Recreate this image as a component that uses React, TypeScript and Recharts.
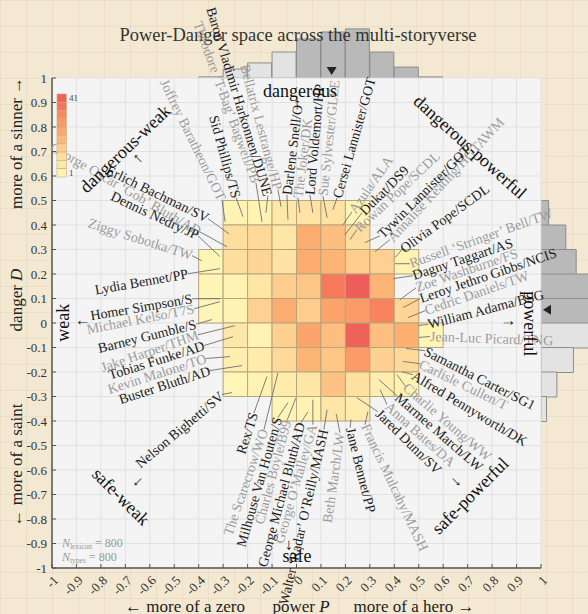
import React from "react";
import {
  ScatterChart,
  Scatter,
  XAxis,
  YAxis,
  CartesianGrid,
  ReferenceArea,
  ReferenceLine,
  ReferenceDot,
  BarChart,
  Bar,
  Cell,
} from "recharts";

const W = 588;
const H = 614;
const PL = 52;
const PT = 78;
const PR = 541;
const PB = 568;
const FONT = '"Liberation Serif", "Times New Roman", serif';

const axisTicks = [
  -1, -0.9, -0.8, -0.7, -0.6, -0.5, -0.4, -0.3, -0.2, -0.1, 0, 0.1, 0.2, 0.3,
  0.4, 0.5, 0.6, 0.7, 0.8, 0.9, 1,
];

// heatmap bins: lower edges (width 0.1)
const binPower = [-0.4, -0.3, -0.2, -0.1, 0, 0.1, 0.2, 0.3, 0.4, 0.5];
const binDanger = [0.4, 0.3, 0.2, 0.1, 0, -0.1, -0.2, -0.3, -0.4];
const binCounts: (number | null)[][] = [
  [null, 3, 3, 7, 9, 9, 2, null, null, null],
  [null, 11, 12, 8, 22, 18, 11, null, null, null],
  [2, 11, 13, 9, 22, 20, 15, 14, 3, null],
  [2, 3, 8, 15, 16, 34, 40, 20, null, null],
  [2, 3, 14, 22, 15, 24, 26, 32, 13, null],
  [null, 7, 3, 14, 24, 18, 39, 18, 21, 2],
  [null, 5, 6, 12, 20, 16, 26, 14, 12, null],
  [null, 2, 3, 6, 8, 17, 10, 5, 3, null],
  [null, null, null, 2, 3, 8, 6, null, null, null],
];

// marginal histograms (same bins as above)
const histPower = [4, 32, 54, 93, 140, 165, 176, 93, 39, 4];
const histDanger = [22, 72, 102, 149, 156, 143, 94, 46, 16];
const meanPower = 0.144;
const meanDanger = 0.054;

const colorbarTicks = [1, 41];

const characters = [
  { name: "George Oscar ‘Gob’ Bluth/AD", p: -0.284, d: 0.311 },
  { name: "Erlich Bachman/SV", p: -0.276, d: 0.364 },
  { name: "Dennis Nedry/JP", p: -0.313, d: 0.271 },
  { name: "Ziggy Sobotka/TW", p: -0.387, d: 0.254 },
  { name: "Lydia Bennet/PP", p: -0.313, d: 0.222 },
  { name: "Homer Simpson/S", p: -0.313, d: 0.099 },
  { name: "Michael Kelso/T7S", p: -0.313, d: 0.087 },
  { name: "Barney Gumble/S", p: -0.346, d: 0.014 },
  { name: "Jake Harper/THM", p: -0.252, d: -0.011 },
  { name: "Tobias Funke/AD", p: -0.26, d: -0.056 },
  { name: "Kevin Malone/TO", p: -0.272, d: -0.137 },
  { name: "Buster Bluth/AD", p: -0.223, d: -0.174 },
  { name: "Nelson Bighetti/SV", p: -0.264, d: -0.284 },
  { name: "Rex/TS", p: -0.121, d: -0.219 },
  { name: "The Scarecrow/WO", p: -0.076, d: -0.203 },
  { name: "Milhouse Van Houten/S", p: -0.035, d: -0.325 },
  { name: "Charles Boyle/B99", p: -0.002, d: -0.305 },
  { name: "George Michael Bluth/AD", p: 0.047, d: -0.362 },
  { name: "George O’Malley/GA", p: 0.067, d: -0.313 },
  { name: "Walter ‘Radar’ O’Reilly/MASH", p: 0.125, d: -0.354 },
  { name: "Beth March/LW", p: 0.162, d: -0.37 },
  { name: "Jane Bennet/PP", p: 0.223, d: -0.394 },
  { name: "Francis Mulcahy/MASH", p: 0.292, d: -0.362 },
  { name: "Jared Dunn/SV", p: 0.247, d: -0.305 },
  { name: "Anna Bates/DA", p: 0.342, d: -0.272 },
  { name: "Marmee March/LW", p: 0.337, d: -0.231 },
  { name: "Charlie Young/WW", p: 0.411, d: -0.211 },
  { name: "Alfred Pennyworth/DK", p: 0.431, d: -0.199 },
  { name: "Carlisle Cullen/T", p: 0.436, d: -0.157 },
  { name: "Samantha Carter/SG1", p: 0.448, d: -0.104 },
  { name: "Jean-Luc Picard/TNG", p: 0.501, d: -0.059 },
  { name: "William Adama/BSG", p: 0.497, d: -0.01 },
  { name: "Cedric Daniels/TW", p: 0.456, d: 0.022 },
  { name: "Leroy Jethro Gibbs/NCIS", p: 0.436, d: 0.063 },
  { name: "Zoe Washburne/FS", p: 0.423, d: 0.095 },
  { name: "Dagny Taggart/AS", p: 0.395, d: 0.181 },
  { name: "Russell ‘Stringer’ Bell/TW", p: 0.403, d: 0.242 },
  { name: "Olivia Pope/SCDL", p: 0.403, d: 0.267 },
  { name: "Annalise Keating/HGTAWM", p: 0.321, d: 0.291 },
  { name: "Tywin Lannister/GOT", p: 0.28, d: 0.328 },
  { name: "Rowan Pope/SCDL", p: 0.219, d: 0.34 },
  { name: "Dukat/DS9", p: 0.198, d: 0.36 },
  { name: "Azula/ALA", p: 0.19, d: 0.401 },
  { name: "Cersei Lannister/GOT", p: 0.149, d: 0.462 },
  { name: "Sue Sylvester/GLEE", p: 0.125, d: 0.43 },
  { name: "Lord Voldemort/HP", p: 0.067, d: 0.45 },
  { name: "The Joker/DK", p: 0.014, d: 0.45 },
  { name: "Darlene Snell/O", p: -0.035, d: 0.422 },
  { name: "Bellatrix Lestrange/HP", p: -0.063, d: 0.475 },
  { name: "Baron Vladimir Harkonnen/DUNE", p: -0.125, d: 0.45 },
  { name: "Theodore ‘T-Bag’ Bagwell/PB", p: -0.141, d: 0.413 },
  { name: "Sid Phillips/TS", p: -0.219, d: 0.434 },
  { name: "Joffrey Baratheon/GOT", p: -0.292, d: 0.413 },
];

// label anchor (data units), rotation, grey tone — same order as characters
const labelLayout = [
  [-0.395, 0.372, 30, 1], [-0.362, 0.426, 26, 0], [-0.403, 0.356, 25, 0],
  [-0.427, 0.275, 17.6, 1], [-0.444, 0.201, -10, 0], [-0.427, 0.099, -9.6, 0],
  [-0.419, 0.058, -11, 1], [-0.411, -0.005, -14, 0], [-0.403, -0.048, -19, 1],
  [-0.378, -0.092, -17.5, 0], [-0.37, -0.145, -17.6, 1], [-0.354, -0.194, -18, 0],
  [-0.305, -0.292, -40, 0], [-0.174, -0.367, -72, 0], [-0.133, -0.435, -71, 1],
  [-0.076, -0.386, -74, 0], [-0.039, -0.398, -75, 1], [0.018, -0.407, -75, 0],
  [0.067, -0.415, -74, 1], [0.112, -0.435, -77, 0], [0.178, -0.448, -82, 1],
  [0.219, -0.427, 76, 0], [0.28, -0.415, 64.7, 1], [0.333, -0.362, 44.6, 0],
  [0.37, -0.333, 42, 1], [0.411, -0.297, 41, 0], [0.444, -0.256, 40.6, 1],
  [0.476, -0.211, 31, 0], [0.505, -0.166, 26, 1], [0.526, -0.113, 27, 0],
  [0.546, -0.055, 2, 1], [0.538, -0.006, -14.6, 0], [0.526, 0.05, -19, 1],
  [0.505, 0.099, -18.8, 0], [0.489, 0.144, -19, 1], [0.476, 0.193, -18.4, 0],
  [0.464, 0.242, -19.7, 1], [0.431, 0.299, -36, 0], [0.382, 0.34, -47, 1],
  [0.342, 0.356, -45, 0], [0.247, 0.381, -43, 1], [0.268, 0.45, -45, 0],
  [0.227, 0.454, -55, 1], [0.166, 0.511, -74, 0], [0.108, 0.519, -84, 1],
  [0.055, 0.523, -85, 0], [0.006, 0.511, -83, 1], [-0.039, 0.523, -83, 0],
  [-0.076, 0.544, 75, 1], [-0.117, 0.52, 73, 0], [-0.166, 0.573, 70, 1],
  [-0.247, 0.511, 74.5, 0], [-0.305, 0.503, 64, 1],
];

const regions = [
  { text: "dangerous-weak", p: -0.701, d: 0.711, angle: -44 },
  { text: "dangerous", p: 0.014, d: 0.948, angle: 0 },
  { text: "dangerous-powerful", p: 0.71, d: 0.719, angle: 42 },
  { text: "powerful", p: 0.955, d: -0.003, angle: 90 },
  { text: "safe-powerful", p: 0.71, d: -0.705, angle: -45 },
  { text: "safe", p: 0.002, d: -0.95, angle: 0 },
  { text: "safe-weak", p: -0.718, d: -0.709, angle: 45 },
  { text: "weak", p: -0.955, d: 0.001, angle: -90 },
];
const regionArrows = [
  { p: -0.652, d: 0.674, angle: -45 },
  { p: 0.002, d: 0.895, angle: 0 },
  { p: 0.669, d: 0.674, angle: 45 },
  { p: 0.873, d: 0.001, angle: 90 },
  { p: 0.656, d: -0.652, angle: 135 },
  { p: -0.031, d: -0.913, angle: 180 },
  { p: -0.652, d: -0.652, angle: -135 },
  { p: -0.881, d: 0.001, angle: -90 },
];

const cmapStops: [number, number[]][] = [
  [0, [255, 248, 186]],
  [0.25, [254, 222, 158]],
  [0.5, [253, 176, 114]],
  [0.75, [249, 136, 94]],
  [1, [236, 88, 88]],
];
function countColor(n: number) {
  const t = Math.max(0, Math.min(1, (n - 1) / 40));
  for (let i = 1; i < cmapStops.length; i++) {
    const [t1, c1] = cmapStops[i];
    const [t0, c0] = cmapStops[i - 1];
    if (t <= t1) {
      const f = (t - t0) / (t1 - t0);
      const c = c0.map((v, k) => Math.round(v + (c1[k] - v) * f));
      return `rgb(${c[0]},${c[1]},${c[2]})`;
    }
  }
  return "rgb(236,88,88)";
}

const fmt = (v: number) => (v === 0 ? "0" : String(v));
const r1 = (v: number) => Math.round(v * 10) / 10;

const cells = binCounts.flatMap((row, i) =>
  row.map((n, j) => ({ n, p: binPower[j], d: binDanger[i] })).filter((c) => c.n !== null)
) as { n: number; p: number; d: number }[];

const labelData = characters.map((c, i) => {
  const [lp, ld, angle, gray] = labelLayout[i];
  const a = (angle * Math.PI) / 180;
  const ox = lp - c.p;
  const oy = -(ld - c.d);
  const anchor = Math.cos(a) * ox + Math.sin(a) * oy >= 0 ? "start" : "end";
  return { x: lp, y: ld, angle, gray, anchor, name: c.name, p: c.p, d: c.d };
});

// full 20-bin histograms from -1 to 1 (bins without characters are 0)
const allBins = axisTicks.slice(0, 20);
const topHistData = allBins.map((b) => {
  const k = binPower.findIndex((v) => r1(v) === r1(b));
  return { bin: r1(b), n: k >= 0 ? histPower[k] : 0 };
});
const rightHistData = allBins
  .slice()
  .reverse()
  .map((b) => {
    const k = binDanger.findIndex((v) => r1(v) === r1(b));
    return { bin: r1(b), n: k >= 0 ? histDanger[k] : 0 };
  });

const XTick = (props: any) => {
  const { x, payload } = props;
  const ty = PB + 10;
  return (
    <g>
      <line x1={x} x2={x} y1={PB} y2={PB - 4} stroke="#555" strokeWidth={1} />
      <text
        x={x + 4}
        y={ty}
        textAnchor="end"
        dominantBaseline="central"
        transform={`rotate(-45 ${x + 4} ${ty})`}
        fontFamily={FONT}
        fontSize={13}
        fill="#333"
      >
        {fmt(payload.value)}
      </text>
    </g>
  );
};

const YTick = (props: any) => {
  const { y, payload } = props;
  return (
    <g>
      <line x1={PL} x2={PL + 4} y1={y} y2={y} stroke="#555" strokeWidth={1} />
      <text x={PL - 5} y={y} textAnchor="end" dominantBaseline="central" fontFamily={FONT} fontSize={13} fill="#333">
        {fmt(payload.value)}
      </text>
    </g>
  );
};

const NameShape = (props: any) => {
  const { cx, cy, payload } = props;
  return (
    <text
      x={cx}
      y={cy}
      textAnchor={payload.anchor}
      dominantBaseline="central"
      transform={`rotate(${payload.angle} ${cx} ${cy})`}
      fontFamily={FONT}
      fontSize={14}
      fill={payload.gray ? "#9c9c9c" : "#1c1c1c"}
    >
      {payload.name}
    </text>
  );
};

const RegionShape = (props: any) => {
  const { cx, cy, payload } = props;
  return (
    <text
      x={cx}
      y={cy}
      textAnchor="middle"
      dominantBaseline="central"
      transform={`rotate(${payload.angle} ${cx} ${cy})`}
      fontFamily={FONT}
      fontSize={18}
      fill="#111"
    >
      {payload.text}
    </text>
  );
};

const ArrowShape = (props: any) => {
  const { cx, cy, payload } = props;
  return (
    <text
      x={cx}
      y={cy}
      textAnchor="middle"
      dominantBaseline="central"
      transform={`rotate(${payload.angle} ${cx} ${cy})`}
      fontFamily={FONT}
      fontSize={16}
      fill="#222"
    >
      ↑
    </text>
  );
};

export default function App() {
  const abs = { position: "absolute" as const, left: 0, top: 0 };
  return (
    <div
      style={{
        ...abs,
        width: W,
        height: H,
        overflow: "hidden",
        backgroundColor: "#f3e8d2",
        backgroundImage:
          "linear-gradient(rgba(170,140,100,0.10) 1px, transparent 1px), linear-gradient(90deg, rgba(170,140,100,0.10) 1px, transparent 1px)",
        backgroundSize: "26px 26px",
      }}
    >
      <div style={{ position: "absolute", left: PL, top: PT - 60 }}>
        <BarChart
          width={PR - PL}
          height={60}
          data={topHistData}
          margin={{ top: 0, right: 0, bottom: 0, left: 0 }}
          barCategoryGap={0}
          barGap={0}
        >
          <XAxis dataKey="bin" type="category" hide />
          <YAxis type="number" domain={[0, 215]} hide />
          <Bar dataKey="n" stroke="#8c8c8c" strokeWidth={1} isAnimationActive={false}>
            {topHistData.map((b, i) => (
              <Cell key={i} fill={b.bin >= 0 ? "#b9b9b9" : "#e3e3e3"} />
            ))}
          </Bar>
        </BarChart>
      </div>

      <div style={{ position: "absolute", left: PR, top: PT }}>
        <BarChart
          layout="vertical"
          width={60}
          height={PB - PT}
          data={rightHistData}
          margin={{ top: 0, right: 0, bottom: 0, left: 0 }}
          barCategoryGap={0}
          barGap={0}
        >
          <XAxis type="number" domain={[0, 174]} hide />
          <YAxis dataKey="bin" type="category" hide />
          <Bar dataKey="n" stroke="#8c8c8c" strokeWidth={1} isAnimationActive={false}>
            {rightHistData.map((b, i) => (
              <Cell key={i} fill={b.bin >= 0 ? "#b9b9b9" : "#e3e3e3"} />
            ))}
          </Bar>
        </BarChart>
      </div>

      <svg width={W} height={H} style={abs}>
        <text x={298} y={35} textAnchor="middle" dominantBaseline="central" fontFamily={FONT} fontSize={18.5} fill="#333">
          Power-Danger space across the multi-storyverse
        </text>
        <text x={185} y={606} textAnchor="middle" dominantBaseline="central" fontFamily={FONT} fontSize={17} fill="#222">
          ← more of a zero
        </text>
        <text x={301} y={606} textAnchor="middle" dominantBaseline="central" fontFamily={FONT} fontSize={17} fill="#222">
          power <tspan fontStyle="italic">P</tspan>
        </text>
        <text x={414} y={606} textAnchor="middle" dominantBaseline="central" fontFamily={FONT} fontSize={17} fill="#222">
          more of a hero →
        </text>
        {[
          { t: "← more of a saint", y: 465 },
          { t: "danger", y: 300, it: "D" },
          { t: "more of a sinner →", y: 143 },
        ].map((l) => (
          <text
            key={l.t}
            x={16}
            y={l.y}
            textAnchor="middle"
            dominantBaseline="central"
            transform={`rotate(-90 16 ${l.y})`}
            fontFamily={FONT}
            fontSize={17}
            fill="#222"
          >
            {l.t}
            {l.it ? <tspan fontStyle="italic"> {l.it}</tspan> : null}
          </text>
        ))}
      </svg>

      <div style={abs}>
        <ScatterChart width={W} height={H} margin={{ top: PT, right: W - PR, bottom: 16, left: 8 }}>
          <CartesianGrid fill="#f4f4f4" stroke="#e1e1e1" strokeWidth={1} />
          <XAxis
            type="number"
            dataKey="x"
            domain={[-1, 1]}
            ticks={axisTicks}
            interval={0}
            tick={<XTick />}
            tickLine={false}
            axisLine={{ stroke: "#555", strokeWidth: 1.5 }}
            height={30}
          />
          <YAxis
            type="number"
            dataKey="y"
            domain={[-1, 1]}
            ticks={axisTicks}
            interval={0}
            tick={<YTick />}
            tickLine={false}
            axisLine={{ stroke: "#555", strokeWidth: 1.5 }}
            width={44}
          />
          {cells.map((c, i) => (
            <ReferenceArea
              key={`c${i}`}
              x1={c.p}
              x2={c.p + 0.1}
              y1={c.d}
              y2={c.d + 0.1}
              fill={countColor(c.n)}
              fillOpacity={1}
              stroke="#b7a67c"
              strokeWidth={1}
            />
          ))}
          {labelData.map((l, i) => (
            <ReferenceLine
              key={`l${i}`}
              segment={[
                { x: l.p, y: l.d },
                { x: l.x, y: l.y },
              ]}
              stroke="#6f6f6f"
              strokeWidth={0.9}
            />
          ))}
          <ReferenceDot
            x={meanPower}
            y={1}
            ifOverflow="visible"
            shape={(p: any) => (
              <path d={`M${p.cx - 5},${p.cy - 11} L${p.cx + 5},${p.cy - 11} L${p.cx},${p.cy - 3} Z`} fill="#222" />
            )}
          />
          <ReferenceDot
            x={1}
            y={meanDanger}
            ifOverflow="visible"
            shape={(p: any) => (
              <path d={`M${p.cx + 2},${p.cy} L${p.cx + 10},${p.cy - 5} L${p.cx + 10},${p.cy + 5} Z`} fill="#222" />
            )}
          />
          <Scatter data={labelData} shape={<NameShape />} isAnimationActive={false} />
          <Scatter
            data={regions.map((r) => ({ ...r, x: r.p, y: r.d }))}
            shape={<RegionShape />}
            isAnimationActive={false}
          />
          <Scatter
            data={regionArrows.map((r) => ({ ...r, x: r.p, y: r.d }))}
            shape={<ArrowShape />}
            isAnimationActive={false}
          />
        </ScatterChart>
      </div>

      <svg width={W} height={H} style={{ ...abs, pointerEvents: "none" }}>
        {Array.from({ length: 10 }, (_, i) => {
          const lo = colorbarTicks[0];
          const hi = colorbarTicks[1];
          const v = hi - ((i + 0.5) * (hi - lo)) / 10;
          return (
            <rect key={i} x={57} y={94 + i * 8.3} width={9.5} height={8.3} fill={countColor(v)} stroke="#c4b088" strokeWidth={0.6} />
          );
        })}
        <text x={69} y={98} fontFamily={FONT} fontSize={9} fill="#444" dominantBaseline="central">
          {colorbarTicks[1]}
        </text>
        <text x={69} y={173} fontFamily={FONT} fontSize={9} fill="#444" dominantBaseline="central">
          {colorbarTicks[0]}
        </text>
        <text x={62} y={543} fontFamily={FONT} fontSize={12} fill="#999" dominantBaseline="central">
          <tspan fontStyle="italic">N</tspan>
          <tspan fontSize={7.5} dy={3}>lexicon</tspan>
          <tspan dy={-3}> = 800</tspan>
        </text>
        <text x={62} y={557} fontFamily={FONT} fontSize={12} fill="#999" dominantBaseline="central">
          <tspan fontStyle="italic">N</tspan>
          <tspan fontSize={7.5} dy={3}>types</tspan>
          <tspan dy={-3}> = 800</tspan>
        </text>
      </svg>
    </div>
  );
}
